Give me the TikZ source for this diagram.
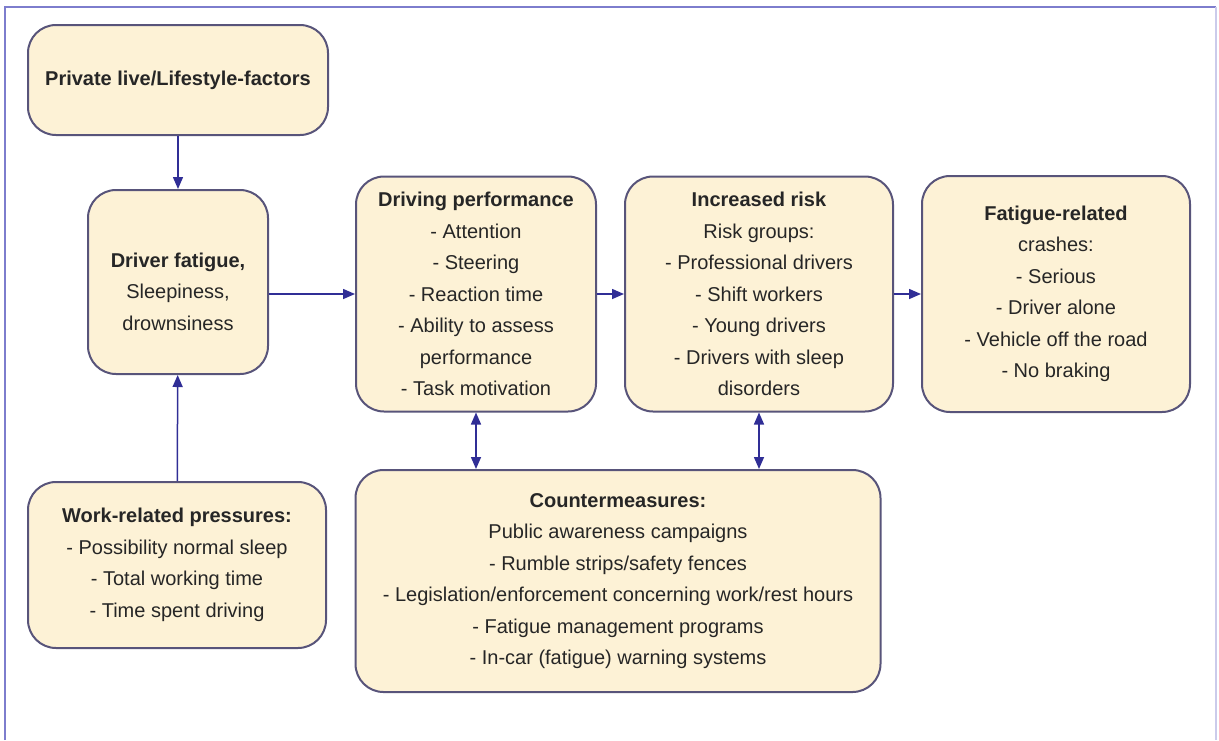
\documentclass[tikz,border=0pt]{standalone}
\usepackage{fontspec}
\setmainfont{Liberation Sans}
\usetikzlibrary{arrows.meta}

\definecolor{boxfill}{RGB}{253,242,214}
\definecolor{boxline}{RGB}{88,84,122}
\definecolor{arrowblue}{RGB}{48,46,150}
\definecolor{framecol}{RGB}{125,125,205}

\begin{document}
\begin{tikzpicture}[x=1pt,y=-1pt]
    \useasboundingbox (0,0) rectangle (1219,740);
    \draw [framecol, line width=2pt] (5,740) -- (5,7) -- (1216,7);
    \draw [framecol!40, line width=1.5pt] (1216,7) -- (1216,740);

    \begin{scope}[every node/.style={draw=boxline, line width=2pt, fill=boxfill,
                  rounded corners=28pt, align=center, inner sep=0pt, text=black!85,
                  font=\fontsize{20}{31.5}\selectfont}]
        \node [minimum width=300pt, minimum height=110pt] (P) at (178,80)
            {\textbf{Private live/Lifestyle-factors}};
        \node [minimum width=180pt, minimum height=184pt] (DF) at (178,282)
            {\rule{0pt}{34pt}\textbf{Driver fatigue,}\\Sleepiness,\\drownsiness};
        \node [minimum width=298pt, minimum height=166pt] (W) at (177,565)
            {\textbf{Work-related pressures:}\\- Possibility normal sleep\\- Total working time\\- Time spent driving};
        \node [minimum width=240pt, minimum height=235pt] (DP) at (476,294)
            {\textbf{Driving performance}\\- Attention\\- Steering\\- Reaction time\\- Ability to assess\\performance\\- Task motivation};
        \node [minimum width=268pt, minimum height=235pt] (IR) at (759,294)
            {\textbf{Increased risk}\\Risk groups:\\- Professional drivers\\- Shift workers\\- Young drivers\\- Drivers with sleep\\disorders};
        \node [minimum width=268pt, minimum height=236pt] (FR) at (1056,294)
            {\textbf{Fatigue-related}\\crashes:\\- Serious\\- Driver alone\\- Vehicle off the road\\- No braking};
        \node [minimum width=525pt, minimum height=222pt] (CM) at (618,581)
            {\textbf{Countermeasures:}\\Public awareness campaigns\\- Rumble strips/safety fences\\- Legislation/enforcement concerning work/rest hours\\- Fatigue management programs\\- In-car (fatigue) warning systems};
    \end{scope}

    \begin{scope}[>={Triangle[length=12pt,width=10pt]},
                  every edge/.style={draw=arrowblue, line width=1.5pt}]
        \path [->] (P) edge (DF);
        \path [->] (W) edge (DF);
        \path [->] (DF.east |- DP.west) edge (DP.west);
        \path [->] (DP) edge (IR);
        \path [->] (IR) edge (FR);
        \path [<->] (DP.south) edge (DP.south |- CM.north);
        \path [<->] (IR.south) edge (IR.south |- CM.north);
    \end{scope}
\end{tikzpicture}
\end{document}
